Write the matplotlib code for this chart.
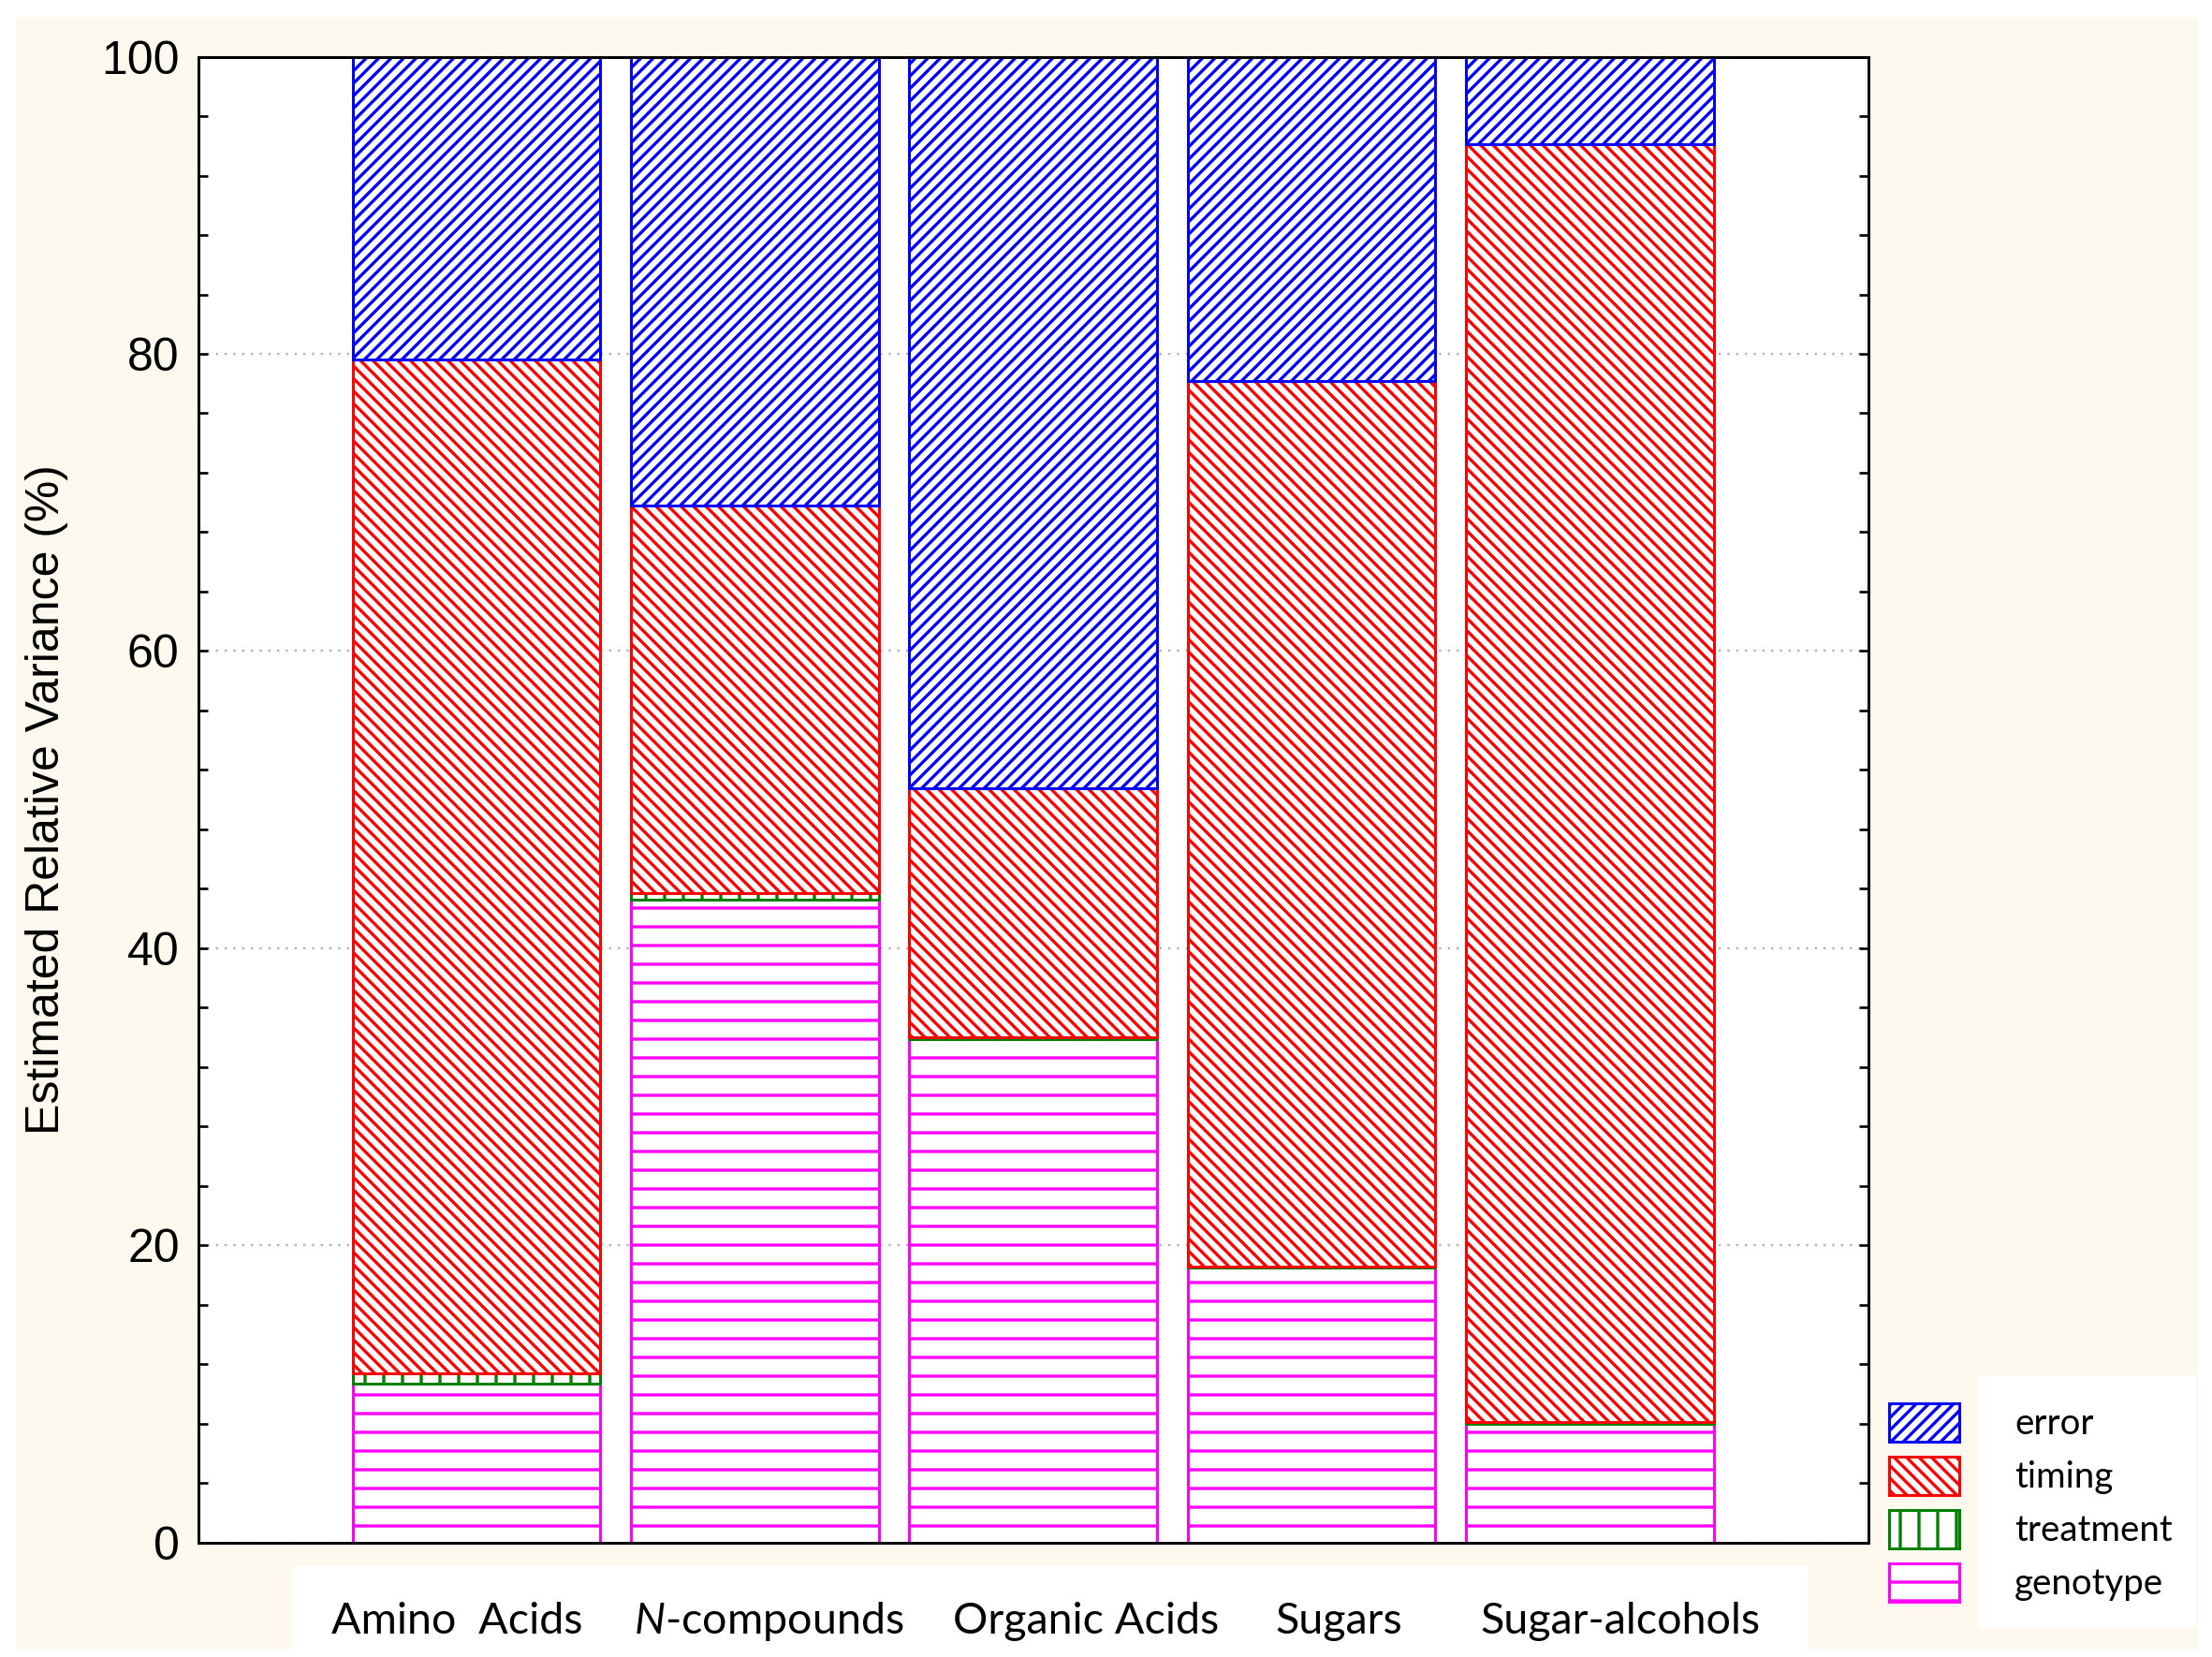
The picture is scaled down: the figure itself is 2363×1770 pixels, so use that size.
import numpy as np
import matplotlib
matplotlib.use("Agg")
from matplotlib import pyplot as plt
from matplotlib.patches import Rectangle

# data (percent of variance, stacked bottom -> top)
categories = ["Amino  Acids", "$\\mathit{N}$-compounds", "Organic Acids", "Sugars", "Sugar-alcohols"]
genotype = [10.7, 43.3, 33.9, 18.5, 8.0]
treatment = [0.7, 0.4, 0.1, 0.1, 0.1]
timing = [68.2, 26.1, 16.8, 59.6, 86.0]
error = [100 - g - t - m for g, t, m in zip(genotype, treatment, timing)]

# labels were pasted slightly off-centre in the original
label_shift = [-0.07, 0.05, 0.19, 0.10, 0.11]

plt.rcParams["hatch.linewidth"] = 2.0
plt.rcParams["mathtext.fontset"] = "custom"
plt.rcParams["mathtext.it"] = "Lato:italic"
plt.rcParams["mathtext.rm"] = "Lato"

DPI = 120
fig = plt.figure(figsize=(2363 / DPI, 1770 / DPI), dpi=DPI, facecolor="white")

# cream background and white pasted boxes
fig.patches.append(Rectangle((0.0072, 0.0045), 0.9865, 0.9853, transform=fig.transFigure,
                             facecolor="#fdf9ee", edgecolor="none", zorder=-3))
fig.patches.append(Rectangle((0.1325, 0.0), 0.685, 0.0548, transform=fig.transFigure,
                             facecolor="white", edgecolor="none", zorder=-2))
fig.patches.append(Rectangle((0.894, 0.018), 0.099, 0.1515, transform=fig.transFigure,
                             facecolor="white", edgecolor="none", zorder=-2))

ax = fig.add_axes([0.0896, 0.0690, 0.7549, 0.8968])
ax.set_facecolor("white")

x = np.arange(1, len(categories) + 1)
width = 0.89
series = [
    ("genotype", genotype, "#ff00ff", "-"),
    ("treatment", treatment, "#008000", "|"),
    ("timing", timing, "#ff0000", "\\\\\\"),
    ("error", error, "#0000ff", "///"),
]
bottom = np.zeros(len(categories))
handles = {}
for name, vals, col, hatch in series:
    b = ax.bar(x, vals, width, bottom=bottom, facecolor="white", edgecolor=col,
               hatch=hatch, linewidth=1.8, label=name, zorder=2)
    handles[name] = b
    bottom += np.array(vals)

ax.set_xlim(0, 6)
ax.set_ylim(0, 100)
ax.set_yticks(np.arange(0, 101, 20))
ax.set_yticks(np.arange(0, 101, 4), minor=True)
ax.set_xticks(x)
ax.set_xticklabels([])
ax.grid(axis="y", which="major", color="#b0b0b0", linestyle=(0, (1, 3)), linewidth=1.4, zorder=0)
ax.tick_params(axis="both", which="both", direction="in", top=True, right=True,
               length=6, width=1.6, color="black")
ax.tick_params(axis="y", which="major", labelsize=30, pad=12)
for lab in ax.get_yticklabels():
    lab.set_fontfamily("Liberation Sans")
for sp in ax.spines.values():
    sp.set_linewidth(1.8)
    sp.set_color("black")
    sp.set_zorder(3)

for xi, s, lab in zip(x, label_shift, categories):
    ax.text(xi + s, -0.053, lab, transform=ax.get_xaxis_transform(), ha="center", va="center",
            fontsize=28, fontfamily="Lato")

ax.set_ylabel("Estimated Relative Variance (%)", fontsize=30, fontfamily="Liberation Sans")
ax.yaxis.set_label_coords(-0.078, 0.5)

order = ["error", "timing", "treatment", "genotype"]
fig.legend([handles[n] for n in order], order, loc="upper left", bbox_to_anchor=(0.854, 0.1530),
           frameon=False, borderpad=0, borderaxespad=0, prop={"family": "Lato", "size": 23},
           handlelength=1.95, handleheight=1.26, labelspacing=0.42, handletextpad=1.55)

fig.savefig("out.png", dpi=DPI, facecolor=fig.get_facecolor())
